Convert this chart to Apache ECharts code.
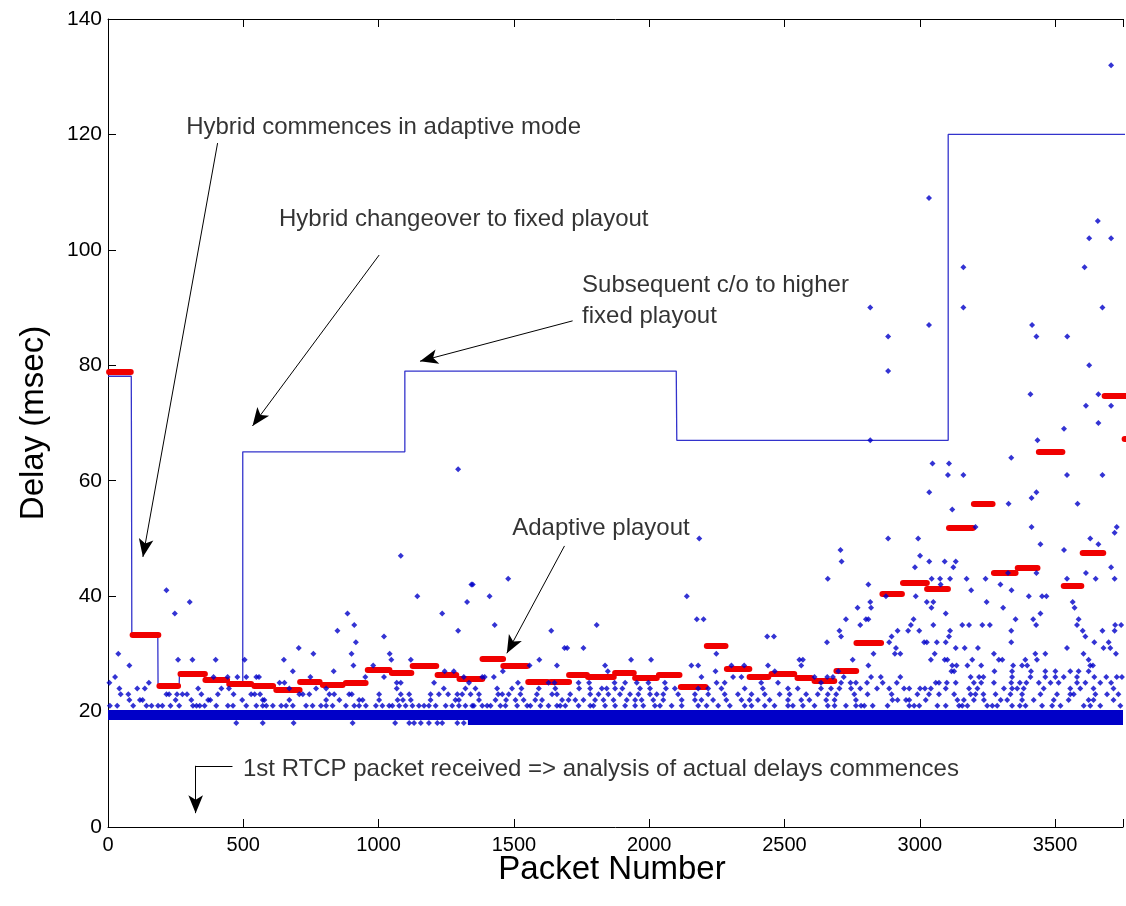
<!DOCTYPE html>
<html>
<head>
<meta charset="utf-8">
<title>Hybrid playout delay</title>
<script src="https://cdn.jsdelivr.net/npm/echarts/dist/echarts.min.js"></script>
<style>
  html, body { margin: 0; padding: 0; background: #fff; }
  #chart { width: 1126px; height: 906px; }
</style>
</head>
<body>
<div id="chart"></div>
<script>
// packet numbers of the delay samples, one list per delay level (msec)
const at18 = [474, 572, 686, 904, 1061, 1113, 1131, 1156, 1186, 1217, 1235, 1291, 1315];
const at21 = [7, 34, 93, 142, 161, 185, 201, 231, 263, 314, 327, 339, 357, 400, 443, 462, 511, 548, 572, 585, 609, 640, 658, 683, 732, 756, 787, 806, 830, 879, 910, 928, 953, 990, 1014, 1039, 1051, 1076, 1100, 1125, 1149, 1168, 1186, 1211, 1248, 1272, 1297, 1321, 1346, 1352, 1383, 1401, 1414, 1450, 1469, 1512, 1549, 1561, 1598, 1628, 1659, 1671, 1690, 1739, 1782, 1794, 1837, 1874, 1911, 1948, 1978, 2021, 2040, 2083, 2120, 2181, 2212, 2255, 2298, 2353, 2378, 2427, 2463, 2513, 2531, 2568, 2611, 2660, 2685, 2727, 2764, 2783, 2795, 2826, 2881, 2961, 2979, 2998, 3065, 3096, 3145, 3157, 3176, 3249, 3268, 3286, 3341, 3370, 3391, 3452, 3489, 3520, 3606, 3630, 3667, 3741];
const at22 = [79, 118, 128, 250, 308, 370, 378, 496, 572, 578, 670, 806, 855, 928, 941, 1002, 1070, 1090, 1119, 1192, 1284, 1297, 1371, 1432, 1471, 1506, 1536, 1579, 1604, 1678, 1702, 1727, 1757, 1800, 1831, 1868, 1917, 1948, 1972, 2015, 2052, 2120, 2169, 2193, 2236, 2285, 2341, 2371, 2402, 2445, 2513, 2562, 2592, 2654, 2685, 2764, 2899, 2918, 2949, 2961, 3022, 3139, 3163, 3200, 3237, 3299, 3323, 3378, 3421, 3495, 3550, 3624, 3642, 3716];
const at23 = [47, 75, 216, 226, 255, 275, 292, 345, 406, 464, 529, 542, 562, 707, 720, 744, 818, 836, 891, 901, 1002, 1082, 1113, 1192, 1223, 1257, 1291, 1309, 1340, 1371, 1442, 1457, 1481, 1524, 1585, 1641, 1659, 1708, 1782, 1813, 1849, 1892, 1929, 1960, 2003, 2028, 2052, 2107, 2169, 2218, 2279, 2328, 2378, 2427, 2482, 2519, 2580, 2623, 2660, 2691, 2758, 2807, 2896, 2991, 3034, 3071, 3127, 3188, 3206, 3235, 3280, 3335, 3378, 3446, 3507, 3556, 3569, 3649, 3692, 3734];
const at24 = [42, 108, 136, 333, 419, 447, 670, 769, 806, 1067, 1241, 1321, 1358, 1438, 1493, 1528, 1592, 1653, 1741, 1782, 1825, 1843, 1874, 1901, 1966, 2003, 2062, 2095, 2181, 2218, 2267, 2353, 2420, 2513, 2549, 2635, 2672, 2703, 2746, 2780, 2842, 2887, 2942, 2961, 3001, 3019, 3041, 3096, 3182, 3213, 3311, 3341, 3360, 3384, 3458, 3556, 3593, 3642, 3716];
const at25 = [5, 151, 634, 652, 1067, 1082, 1205, 1334, 1515, 1628, 1650, 1739, 1778, 1872, 1911, 1954, 1997, 2058, 2249, 2279, 2414, 2476, 2635, 2709, 2744, 2764, 2805, 2863, 2915, 3059, 3071, 3100, 3133, 3200, 3227, 3274, 3338, 3370, 3394, 3440, 3483, 3513, 3581, 3612, 3667, 3707];
const at26 = [26, 390, 442, 478, 511, 548, 558, 748, 951, 1020, 1315, 1383, 1392, 1426, 2193, 2310, 2341, 2611, 2658, 2679, 2719, 2820, 2856, 2928, 3188, 3219, 3235, 3341, 3409, 3464, 3501, 3532, 3581, 3645, 3689, 3728, 3747];
const at27 = [683, 834, 1244, 1278, 1459, 1847, 2245, 2464, 2699, 3117, 3127, 3276, 3341, 3411, 3464, 3501, 3556, 3587, 3624];
const at28 = [79, 907, 980, 1558, 1659, 1837, 2156, 2181, 2304, 2351, 2439, 2562, 2810, 3120, 3136, 3176, 3227, 3345, 3378, 3397, 3630, 3640];
const at29 = [259, 312, 398, 505, 650, 1047, 1119, 1594, 1933, 2007, 2555, 2568, 2752, 3041, 3092, 3102, 3194, 3292, 3305, 3390, 3433, 3624];
const at30 = [38, 759, 900, 1041, 2248, 2829, 2908, 2928, 3055, 3274, 3427, 3464, 3605, 3725];
const at31 = [705, 1687, 1697, 1757, 2912, 3133, 3166, 3215, 3544, 3679, 3704];

// higher delays: [packet, delay]
const spikes = [
  [916, 32], [2657, 32], [2887, 32], [3016, 32], [3026, 32], [3063, 32], [3096, 32], [3338, 32], [3645, 32], [3698, 32],
  [1020, 33], [2436, 33], [2461, 33], [2709, 33], [2896, 33], [3108, 33], [3612, 33],
  [848, 34], [1294, 34], [1638, 34], [2703, 34], [2918, 34], [2957, 34], [2998, 34], [3112, 34], [3338, 34], [3602, 34], [3675, 34], [3720, 34],
  [910, 35], [1429, 35], [1806, 35], [2780, 35], [2967, 35], [3050, 35], [3157, 35], [3182, 35], [3231, 35], [3259, 35], [3430, 35], [3581, 35], [3722, 35], [3744, 35],
  [2176, 36], [2201, 36], [2727, 36], [2801, 36], [2810, 36], [2977, 36], [3354, 36], [3419, 36], [3587, 36],
  [247, 37], [885, 37], [1235, 37], [3096, 37], [3446, 37],
  [2770, 38], [2820, 38], [3043, 38], [3308, 38], [3572, 38],
  [302, 39], [1327, 39], [2817, 39], [3026, 39], [3050, 39], [3247, 39], [3565, 39],
  [1143, 40], [1410, 40], [2139, 40], [2875, 40], [2985, 40], [3403, 40], [3452, 40], [3468, 40],
  [216, 41], [3190, 41], [3339, 41],
  [1343, 42], [1348, 42], [2810, 42], [3077, 42], [3298, 42],
  [1479, 43], [2660, 43], [3044, 43], [3075, 43], [3112, 43], [3173, 43], [3243, 43], [3544, 43], [3650, 43], [3720, 43],
  [3326, 44], [3431, 44], [3614, 44],
  [2982, 45], [3124, 45], [3707, 45],
  [2711, 46], [3035, 46], [3092, 46], [3133, 46],
  [1082, 47], [3001, 47], [2707, 48], [3533, 48], [3446, 49], [3660, 49],
  [2185, 50], [2883, 50], [2994, 50], [3630, 50], [3720, 51], [3206, 52], [3413, 52], [3728, 52],
  [3120, 55], [3328, 56], [3583, 56], [3413, 57], [3035, 58], [3431, 58],
  [3104, 61], [3161, 61], [3544, 61], [3675, 61], [1294, 62], [3047, 63], [3108, 63], [3338, 64],
  [2817, 67], [3435, 67], [3533, 69], [3660, 70], [3614, 73], [3707, 73], [3409, 75], [3660, 75],
  [2883, 79], [3626, 80], [2883, 85], [3431, 85], [3545, 85], [3034, 87], [3415, 87],
  [2817, 90], [3161, 90], [3675, 90], [3161, 97], [3609, 97], [3626, 102], [3707, 102],
  [3658, 105], [3034, 109], [3707, 132]
];

// bulk of packets sits at the network floor: [from, to, delay]
const floorBands = [[0, 3760, 19.5], [1330, 3760, 18.2]];

// hybrid playout delay (blue step line)
const hybridPlayout = [
  [0, 78.1], [86, 78.1], [87, 60.5], [88, 33.3], [184, 33.3], [185, 24.4], [263, 24.4], [264, 26.5],
  [356, 26.5], [357, 25.6], [443, 25.6], [444, 24.4], [498, 24.4], [498, 65], [1097, 65], [1097, 79],
  [2100, 79], [2101, 73], [2102, 67], [3105, 67], [3105, 120], [3760, 120]
];

// adaptive playout delay per talkspurt (red bars): [from, to, delay]
const adaptivePlayout = [
  [4, 84, 78.9], [91, 186, 33.3], [190, 259, 24.4], [268, 358, 26.5], [360, 440, 25.6], [448, 529, 24.8],
  [541, 610, 24.4], [622, 708, 23.7], [710, 782, 25.1], [794, 867, 24.6], [879, 952, 25.0], [960, 1040, 27.2],
  [1049, 1121, 26.7], [1126, 1213, 27.9], [1218, 1287, 26.3], [1299, 1383, 25.7], [1384, 1460, 29.1],
  [1461, 1549, 27.9], [1553, 1624, 25.1], [1636, 1704, 25.1], [1704, 1770, 26.3], [1774, 1869, 26.0],
  [1874, 1943, 26.7], [1948, 2028, 25.8], [2036, 2112, 26.3], [2117, 2208, 24.3], [2213, 2282, 31.4],
  [2287, 2370, 27.5], [2371, 2440, 26.1], [2452, 2536, 26.5], [2548, 2599, 25.8], [2611, 2684, 25.3],
  [2692, 2765, 27.1], [2766, 2857, 31.9], [2862, 2934, 40.4], [2938, 3026, 42.3], [3027, 3104, 41.2],
  [3108, 3196, 51.8], [3200, 3269, 56.0], [3274, 3354, 44.0], [3362, 3435, 45.0], [3440, 3527, 65.0],
  [3532, 3597, 41.8], [3602, 3678, 47.6], [3683, 3765, 74.8], [3757, 3850, 67.2]
];

// annotations: [packet, delay, text]
const notes = [
  [287, 121.3, 'Hybrid commences in adaptive mode'],
  [630, 105.2, 'Hybrid changeover to fixed playout'],
  [1750, 91.2, 'Subsequent c/o to higher\nfixed playout'],
  [1492, 51.8, 'Adaptive playout'],
  [497, 9.9, '1st RTCP packet received => analysis of actual delays commences']
];
// arrows: [fromPacket, fromDelay, toPacket, toDelay]
const arrows = [
  [405, 118.5, 129, 46.8],
  [1002, 99.1, 534, 69.5],
  [1717, 87.7, 1153, 80.7],
  [1687, 48.7, 1474, 30.1]
];
const rtcpElbow = [[460, 10.6], [324, 10.6], [324, 2.4]];
const xTicks = [0, 500, 1000, 1500, 2000, 2500, 3000, 3500];

const levelRows = [
  [18, at18], [21, at21], [22, at22], [23, at23], [24, at24], [25, at25],
  [26, at26], [27, at27], [28, at28], [29, at29], [30, at30], [31, at31]
];
let samples = [];
levelRows.forEach(r => r[1].forEach(x => samples.push([x, r[0]])));
samples = samples.concat(spikes);

const FONT = "'Liberation Sans', Arial, sans-serif";

let arrowLines = arrows.map(a => [{ coord: [a[0], a[1]] }, { coord: [a[2], a[3]] }]);
arrowLines.push([
  { coord: rtcpElbow[0], symbol: 'none' },
  { coord: rtcpElbow[1], symbol: 'none' }
]);
arrowLines.push([{ coord: rtcpElbow[1] }, { coord: rtcpElbow[2] }]);

let myChart = echarts.init(document.getElementById('chart'));
let axisCommon = {
  type: 'value',
  axisLine: { lineStyle: { color: '#000', width: 1 } },
  axisTick: { inside: true, length: 8, lineStyle: { color: '#000' } },
  splitLine: { show: false }
};
// the figure is cropped at packet ~3751, so the axis ends there
let xRange = { min: 0, max: 3751, interval: 500 };
let option = {
  animation: false,
  backgroundColor: '#fff',
  textStyle: { fontFamily: FONT },
  grid: { left: 108, top: 19, right: 0, bottom: 79 },
  xAxis: [
    Object.assign({}, axisCommon, xRange, {
      axisLabel: {
        color: '#000', fontSize: 20, margin: 8, fontFamily: FONT,
        formatter: v => (xTicks.indexOf(v) >= 0 ? String(v) : '')
      }
    }),
    Object.assign({}, axisCommon, xRange, {
      position: 'top',
      axisLabel: { show: false }
    })
  ],
  yAxis: [
    Object.assign({}, axisCommon, {
      min: 0, max: 140, interval: 20,
      axisLabel: { color: '#000', fontSize: 21, margin: 6, fontFamily: FONT },
      name: 'Delay (msec)',
      nameLocation: 'middle',
      nameGap: 58,
      nameTextStyle: { color: '#000', fontSize: 33, fontFamily: FONT }
    })
  ],
  graphic: [{
    type: 'text',
    style: {
      text: 'Packet Number',
      x: 612, y: 870,
      textAlign: 'center', textVerticalAlign: 'middle',
      fill: '#000',
      font: '33px ' + FONT
    }
  }],
  series: [
    {
      type: 'lines',
      coordinateSystem: 'cartesian2d',
      silent: true,
      data: floorBands.map((b, i) => ({
        coords: [[b[0], b[2]], [b[1], b[2]]],
        lineStyle: { width: i === 0 ? 10 : 5 }
      })),
      lineStyle: { color: '#0000c8', opacity: 1 },
      z: 2
    },
    {
      type: 'line',
      data: hybridPlayout,
      showSymbol: false,
      lineStyle: { color: '#3333cc', width: 1.3 },
      z: 3
    },
    {
      type: 'lines',
      coordinateSystem: 'cartesian2d',
      silent: true,
      data: adaptivePlayout.map(s => ({ coords: [[s[0], s[2]], [s[1], s[2]]] })),
      lineStyle: { color: '#f00000', width: 6, cap: 'round', opacity: 1 },
      z: 4
    },
    {
      type: 'scatter',
      data: samples,
      symbol: 'diamond',
      symbolSize: 6,
      itemStyle: { color: '#0000c8' },
      z: 5
    },
    {
      type: 'scatter',
      data: notes,
      symbolSize: 1,
      itemStyle: { color: 'rgba(0,0,0,0)' },
      label: {
        show: true,
        position: 'right',
        distance: 0,
        formatter: p => p.data[2],
        color: '#000',
        fontSize: 24,
        lineHeight: 31,
        fontFamily: FONT
      },
      markLine: {
        silent: true,
        symbol: ['none', 'arrow'],
        symbolSize: [11, 18],
        lineStyle: { color: '#000', width: 1, type: 'solid' },
        label: { show: false },
        data: arrowLines
      },
      z: 6
    }
  ]
};
myChart.setOption(option);
</script>
</body>
</html>
